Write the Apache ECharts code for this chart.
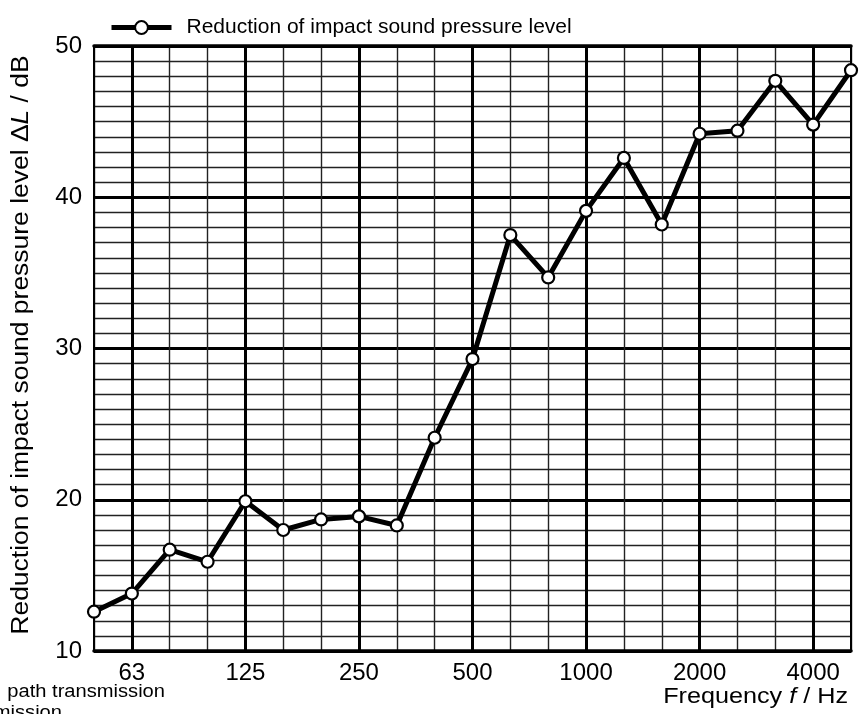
<!DOCTYPE html>
<html>
<head>
<meta charset="utf-8">
<script src="https://cdn.jsdelivr.net/npm/echarts@6/dist/echarts.min.js"></script>
<style>html,body{margin:0;padding:0;background:#fff}#c{width:866px;height:714px}</style>
</head>
<body>
<div id="c"></div>
<script>
const frequencies = ['50','63','80','100','125','160','200','250','315','400','500','630','800','1000','1250','1600','2000','2500','3150','4000','5000'];
const octaveLabels = ['63','125','250','500','1000','2000','4000'];
const reduction = [12.6,13.8,16.7,15.9,19.9,18.0,18.7,18.9,18.3,24.1,29.3,37.5,34.7,39.1,42.6,38.2,44.2,44.4,47.7,44.8,48.4];
const seriesName = 'Reduction of impact sound pressure level';
const yTicks = [10,20,30,40,50];

const FONT = '"Liberation Sans", Arial, sans-serif';
const isOctave = (i) => octaveLabels.indexOf(frequencies[i]) >= 0;

const chart = echarts.init(document.getElementById('c'), null, {renderer:'canvas'});
chart.setOption({
  animation: false,
  backgroundColor: '#fff',
  grid: {left: 94, right: 15, top: 46, bottom: 63, containLabel: false},
  legend: {
    data: [seriesName],
    left: 104, top: 12,
    itemWidth: 60, itemHeight: 16,
    lineStyle: {width: 5, color: '#000'},
    itemStyle: {color: '#fff', borderColor: '#000', borderWidth: 2},
    textStyle: {fontFamily: FONT, fontSize: 21, color: '#000', padding: [0,0,0,10]}
  },
  xAxis: [{
    type: 'category', data: frequencies, boundaryGap: false, position: 'bottom',
    axisLine: {show: true, lineStyle: {color: '#000', width: 3.5}},
    axisTick: {show: false},
    axisLabel: {interval: (i) => isOctave(i), fontFamily: FONT, fontSize: 24, color: '#000', margin: 10},
    splitLine: {show: true, interval: (i) => !isOctave(i), lineStyle: {color: '#222', width: 1.4}}
  },{
    type: 'category', data: frequencies, boundaryGap: false, position: 'top',
    axisLine: {show: true, lineStyle: {color: '#000', width: 3.5}},
    axisTick: {show: false}, axisLabel: {show: false},
    splitLine: {show: true, interval: (i) => isOctave(i), lineStyle: {color: '#000', width: 3}}
  }],
  yAxis: [{
    type: 'value', min: yTicks[0], max: yTicks[yTicks.length-1], interval: 10, position: 'left',
    axisLine: {show: true, lineStyle: {color: '#000', width: 2}},
    axisTick: {show: false},
    axisLabel: {fontFamily: FONT, fontSize: 24, color: '#000', margin: 12},
    splitLine: {show: true, lineStyle: {color: '#000', width: 3}},
    minorTick: {show: false, splitNumber: 10},
    minorSplitLine: {show: true, lineStyle: {color: '#222', width: 1.4}}
  },{
    type: 'value', min: yTicks[0], max: yTicks[yTicks.length-1], interval: 10, position: 'right',
    axisLine: {show: true, lineStyle: {color: '#000', width: 2}},
    axisTick: {show: false}, axisLabel: {show: false}, splitLine: {show: false}
  }],
  series: [{
    name: seriesName, type: 'line', data: reduction, xAxisIndex: 0, yAxisIndex: 0,
    symbol: 'circle', symbolSize: 12, z: 10,
    lineStyle: {color: '#000', width: 5},
    itemStyle: {color: '#fff', borderColor: '#000', borderWidth: 2.2}
  }],
  graphic: [
    {type: 'text', x: 22, y: 345, rotation: Math.PI/2, scaleX: 1.15,
     style: {text: '{a|Reduction of impact sound pressure level Δ}{i|L}{a| / dB}',
       textAlign: 'center', textVerticalAlign: 'middle',
       rich: {a: {fontFamily: FONT, fontSize: 23, fill: '#000'}, i: {fontFamily: FONT, fontSize: 23, fontStyle: 'italic', fill: '#000'}}}},
    {type: 'text', x: 848, y: 697, scaleX: 1.12,
     style: {text: '{a|Frequency }{i|f}{a| / Hz}', textAlign: 'right', textVerticalAlign: 'middle',
       rich: {a: {fontFamily: FONT, fontSize: 22.5, fill: '#000'}, i: {fontFamily: FONT, fontSize: 22.5, fontStyle: 'italic', fill: '#000'}}}},
    {type: 'text', x: 165, y: 692, scaleX: 1.15,
     style: {text: 'path transmission', textAlign: 'right', textVerticalAlign: 'middle', fontFamily: FONT, fontSize: 17.5, fill: '#000'}},
    {type: 'text', x: 62, y: 713, scaleX: 1.15,
     style: {text: 'without flanking transmission', textAlign: 'right', textVerticalAlign: 'middle', fontFamily: FONT, fontSize: 17.5, fill: '#000'}}
  ]
});
</script>
</body>
</html>
